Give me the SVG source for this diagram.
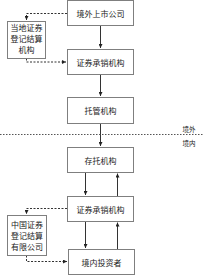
<svg xmlns="http://www.w3.org/2000/svg" width="203" height="275" viewBox="0 0 203 275">
<style>
.box{fill:#fff;stroke:#7f7f7f;stroke-width:1}
.t{font-family:"Noto Sans CJK SC","Liberation Sans",sans-serif;font-size:8px;fill:#222;text-anchor:middle;dominant-baseline:central}
.s{font-family:"Noto Sans CJK SC","Liberation Sans",sans-serif;font-size:6.5px;fill:#222;text-anchor:middle;dominant-baseline:central}
.ln{stroke:#333;stroke-width:1;fill:none}
.dl{stroke:#333;stroke-width:1;fill:none;stroke-dasharray:2,1.5}
</style>
<defs>
<marker id="a" viewBox="0 0 6 6" refX="6" refY="3" markerWidth="4" markerHeight="4" orient="auto"><path d="M0,0L6,3L0,6z" fill="#222"/></marker>
</defs>
<g id="connectors">
<path class="ln" d="M100.5,25.5V48" marker-end="url(#a)"/>
<path class="ln" d="M100.5,74.5V96" marker-end="url(#a)"/>
<path class="ln" d="M100.5,123.5V146" marker-end="url(#a)"/>
<path class="ln" d="M85.5,172.5V195" marker-end="url(#a)"/>
<path class="ln" d="M117.5,196V173.5" marker-end="url(#a)"/>
<path class="ln" d="M85.5,221.5V248" marker-end="url(#a)"/>
<path class="ln" d="M117.5,249V222.5" marker-end="url(#a)"/>
<path class="dl" d="M67,13.5H26.5V20" marker-end="url(#a)"/>
<path class="dl" d="M26.5,58.5V62H66" marker-end="url(#a)"/>
<path class="dl" d="M67,208.5H26.5V214" marker-end="url(#a)"/>
<path class="dl" d="M26.5,255.5V261.5H67" marker-end="url(#a)"/>
<path d="M0,134.5H203" stroke="#555" stroke-width="1" stroke-dasharray="1.5,1.5"/>
</g>
<g id="n1"><rect class="box" x="67.5" y="0.5" width="66" height="25"/><text class="t" x="100.5" y="13">境外上市公司</text></g>
<g id="n2"><rect class="box" x="67.5" y="49.5" width="66" height="25"/><text class="t" x="100.5" y="62">证券承销机构</text></g>
<g id="n3"><rect class="box" x="67.5" y="97.5" width="66" height="26"/><text class="t" x="100.5" y="110.5">托管机构</text></g>
<g id="n4"><rect class="box" x="67.5" y="147.5" width="66" height="25"/><text class="t" x="100.5" y="160">存托机构</text></g>
<g id="n5"><rect class="box" x="67.5" y="196.5" width="66" height="25"/><text class="t" x="100.5" y="209">证券承销机构</text></g>
<g id="n6"><rect class="box" x="68.5" y="249.5" width="66" height="25"/><text class="t" x="101.5" y="262">境内投资者</text></g>
<g id="n7"><rect class="box" x="7.5" y="21.5" width="38" height="37"/><text class="t" x="26.5" y="27.5">当地证券</text><text class="t" x="26.5" y="38.5">登记结算</text><text class="t" x="26.5" y="49.5">机构</text></g>
<g id="n8"><rect class="box" x="7.5" y="215.5" width="39" height="40"/><text class="t" x="27" y="224.5">中国证券</text><text class="t" x="27" y="235.5">登记结算</text><text class="t" x="27" y="246">有限公司</text></g>
<g id="labels"><text class="s" x="189" y="129">境外</text><text class="s" x="189" y="143">境内</text></g>
</svg>
